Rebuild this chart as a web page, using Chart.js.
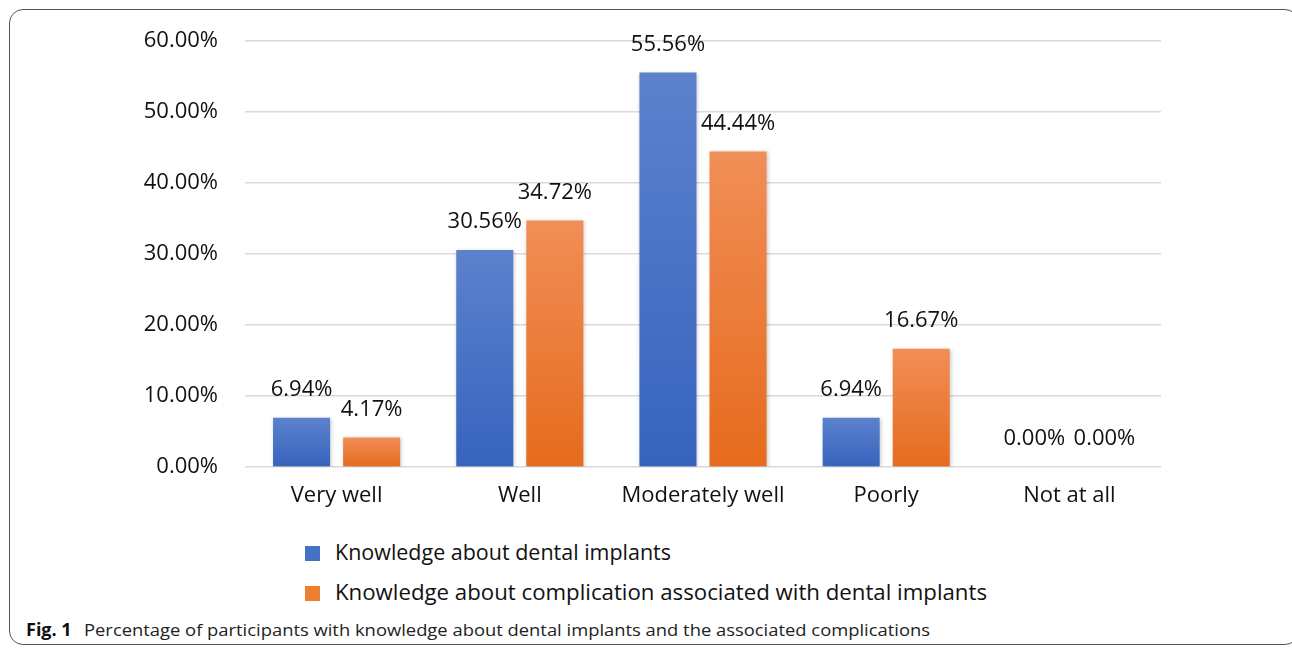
<!DOCTYPE html>
<html>
<head>
<meta charset="utf-8">
<script src="https://cdn.jsdelivr.net/npm/chart.js@4/dist/chart.umd.min.js"></script>
<style>
  html, body { margin: 0; padding: 0; background: #fff; }
  body { width: 1292px; height: 649px; position: relative; overflow: hidden; font-family: "Open Sans", sans-serif; }
  #panel {
    position: absolute; left: 9px; top: 9px; width: 1290px; height: 636px;
    border: 1.5px solid #555; border-radius: 14px; box-sizing: border-box;
  }
  #wrap { position: absolute; left: 0; top: 0; width: 1292px; height: 520px; }
  .leg { position: absolute; left: 305px; font-size: 21px; color: #111; white-space: nowrap; }
  .leg i { position: absolute; left: 0; width: 15px; height: 15px; }
  .leg span { position: absolute; left: 30px; display: inline-block; transform-origin: 0 50%; }
  #cap { position: absolute; left: 26px; top: 617px; font-size: 17px; color: #222; white-space: nowrap; }
  #cap b { color: #111; font-size: 18px; }
  #cap span { display: inline-block; transform-origin: 0 50%; margin-left: 12px; }
</style>
</head>
<body>
<div id="panel"></div>
<div id="wrap"><canvas id="chart" width="1292" height="520"></canvas></div>
<div class="leg" style="top:538px"><i style="top:8px;background:#4472c4"></i><span id="l1">Knowledge about dental implants</span></div>
<div class="leg" style="top:578px"><i style="top:8px;background:#ed7d31"></i><span id="l2">Knowledge about complication associated with dental implants</span></div>
<div id="cap"><b>Fig. 1</b><span id="capText">Percentage of participants with knowledge about dental implants and the associated complications</span></div>
<script>
// categories and values (%)
const categories = ['Very well', 'Well', 'Moderately well', 'Poorly', 'Not at all'];
const implants = [6.94, 30.56, 55.56, 6.94, 0];
const complications = [4.17, 34.72, 44.44, 16.67, 0];
const yTicks = [0, 10, 20, 30, 40, 50, 60];

function barGradient(top, bottom) {
  return function (context) {
    const chart = context.chart;
    if (!chart.chartArea || context.parsed === undefined) return bottom;
    const y = chart.scales.y;
    const y0 = y.getPixelForValue(context.parsed.y);
    const y1 = y.getPixelForValue(0);
    if (y1 - y0 < 1) return bottom;
    const g = chart.ctx.createLinearGradient(0, y0, 0, y1);
    g.addColorStop(0, top);
    g.addColorStop(1, bottom);
    return g;
  };
}

// value labels above bars
const valueLabels = {
  id: 'valueLabels',
  afterDatasetsDraw(chart) {
    const ctx = chart.ctx;
    ctx.save();
    ctx.font = '22px "Open Sans"';
    ctx.fillStyle = '#111';
    ctx.textAlign = 'center';
    ctx.textBaseline = 'middle';
    chart.data.datasets.forEach((ds, i) => {
      chart.getDatasetMeta(i).data.forEach((el, j) => {
        ctx.fillText(ds.data[j].toFixed(2) + '%', el.x, el.y - 28);
      });
    });
    ctx.restore();
  }
};

// soft shadow under the bars
const barShadow = {
  id: 'barShadow',
  beforeDatasetsDraw(chart) {
    const ctx = chart.ctx;
    ctx.save();
    ctx.shadowColor = 'rgba(0,0,0,0.22)';
    ctx.shadowBlur = 4;
    ctx.shadowOffsetX = 1;
    ctx.shadowOffsetY = 1;
  },
  afterDatasetsDraw(chart) {
    chart.ctx.restore();
  }
};

new Chart(document.getElementById('chart'), {
  type: 'bar',
  data: {
    labels: categories,
    datasets: [
      { label: 'Knowledge about dental implants', data: implants,
        backgroundColor: barGradient('#5c82cd', '#3763be') },
      { label: 'Knowledge about complication associated with dental implants', data: complications,
        backgroundColor: barGradient('#f18e57', '#e66b1d') }
    ]
  },
  options: {
    responsive: false,
    animation: false,
    devicePixelRatio: 1,
    layout: { padding: { left: 0, right: 131, top: 41, bottom: 0 } },
    datasets: { bar: { categoryPercentage: 0.765, barPercentage: 0.814 } },
    plugins: { legend: { display: false }, tooltip: { enabled: false } },
    scales: {
      x: {
        grid: { display: false },
        border: { display: false },
        ticks: { color: '#111', font: { family: 'Open Sans', size: 22 }, padding: 8, maxRotation: 0 },
        afterFit(scale) { scale.height = 53; }
      },
      y: {
        min: 0, max: 60,
        afterBuildTicks(scale) { scale.ticks = yTicks.map(v => ({ value: v })); },
        grid: { color: '#d9d9d9', lineWidth: 1.5, drawTicks: false },
        border: { display: false },
        ticks: { color: '#111', font: { family: 'Open Sans', size: 22 }, padding: 27,
          callback: v => v.toFixed(2) + '%' },
        afterFit(scale) { scale.width = 245; }
      }
    }
  },
  plugins: [barShadow, valueLabels]
});

// fit text widths to the reference
function fitWidth(id, w) {
  const el = document.getElementById(id);
  const cur = el.getBoundingClientRect().width;
  el.style.transform = 'scaleX(' + (w / cur) + ')';
}
fitWidth('l1', 336);
fitWidth('l2', 652);
fitWidth('capText', 846);
</script>
</body>
</html>
